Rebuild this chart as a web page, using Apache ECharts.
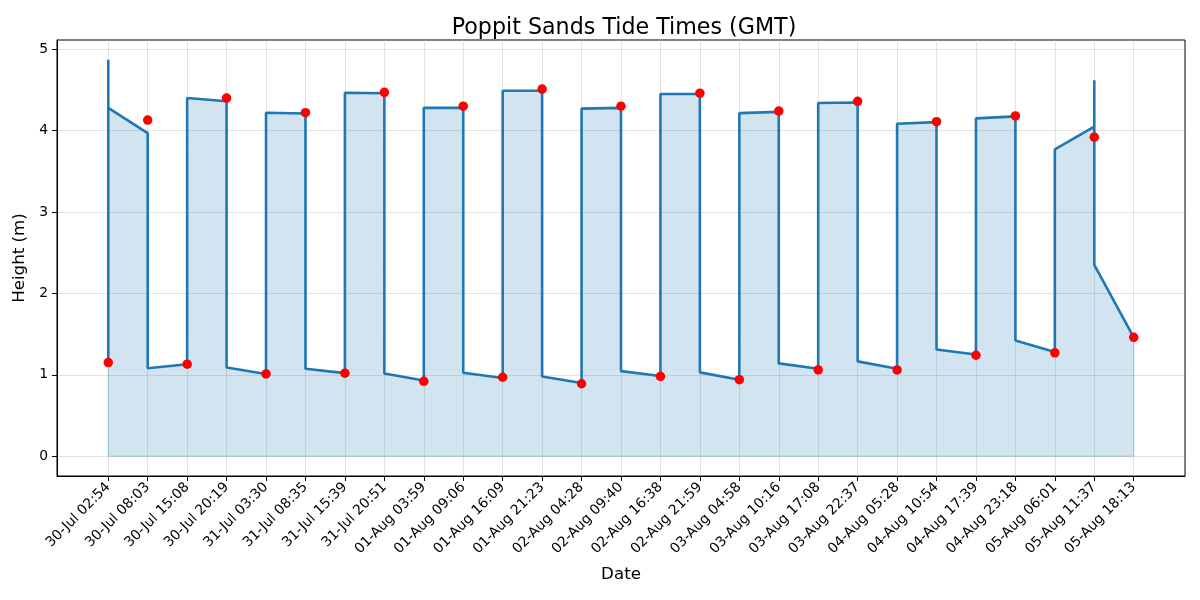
<!DOCTYPE html>
<html>
<head>
<meta charset="utf-8">
<script src="https://cdn.jsdelivr.net/npm/echarts@6/dist/echarts.min.js"></script>
<style>
  html, body { margin: 0; padding: 0; background: #fff; }
  #main { width: 1200px; height: 600px; }
</style>
</head>
<body>
<div id="main"></div>
<script>
// tide times (category labels)
var tideTimes = ['30-Jul 02:54', '30-Jul 08:03', '30-Jul 15:08', '30-Jul 20:19', '31-Jul 03:30', '31-Jul 08:35',
    '31-Jul 15:39', '31-Jul 20:51', '01-Aug 03:59', '01-Aug 09:06', '01-Aug 16:09', '01-Aug 21:23',
    '02-Aug 04:28', '02-Aug 09:40', '02-Aug 16:38', '02-Aug 21:59', '03-Aug 04:58', '03-Aug 10:16',
    '03-Aug 17:08', '03-Aug 22:37', '04-Aug 05:28', '04-Aug 10:54', '04-Aug 17:39', '04-Aug 23:18',
    '05-Aug 06:01', '05-Aug 11:37', '05-Aug 18:13'];
// tide heights (red dots)
var tideHeights = [1.15, 4.13, 1.13, 4.40, 1.01, 4.22, 1.02, 4.47, 0.92, 4.30, 0.97, 4.51, 0.89, 4.30,
    0.98, 4.46, 0.94, 4.24, 1.06, 4.36, 1.06, 4.11, 1.24, 4.18, 1.27, 3.92, 1.46];
// blue curve vertices: category index and height
var curveIdx = [0, 0, 0, 1, 1, 2, 2, 3, 3, 4, 4, 5, 5, 6, 6, 7, 7, 8, 8, 9, 9, 10, 10, 11, 11, 12, 12,
    13, 13, 14, 14, 15, 15, 16, 16, 17, 17, 18, 18, 19, 19, 20, 20, 21, 21, 22, 22, 23, 23, 24, 24,
    25, 25, 25, 26];
var curveHeight = [1.15, 4.87, 4.28, 3.97, 1.08, 1.13, 4.40, 4.36, 1.09, 1.01, 4.22, 4.21, 1.075,
    1.02, 4.465, 4.46, 1.015, 0.93, 4.28, 4.28, 1.025, 0.96, 4.49, 4.49, 0.98, 0.90, 4.27, 4.28, 1.045,
    0.985, 4.45, 4.45, 1.03, 0.94, 4.215, 4.23, 1.14, 1.075, 4.34, 4.345, 1.165, 1.075, 4.085, 4.105,
    1.31, 1.25, 4.15, 4.175, 1.42, 1.28, 3.77, 4.05, 4.62, 2.35, 1.46];
var yTicks = [0, 1, 2, 3, 4, 5];

var xTicks = tideTimes.map(function (t, i) { return i; });
var curveData = curveIdx.map(function (x, i) { return [x, curveHeight[i]]; });
var dotData = tideHeights.map(function (h, i) { return [i, h]; });
// faint outline of the filled area (left, bottom and right edges)
var firstX = curveIdx[0], lastX = curveIdx[curveIdx.length - 1];
var edgeData = [[firstX, curveHeight[0]], [firstX, 0], [lastX, 0], [lastX, curveHeight[curveHeight.length - 1]]];

var chart = echarts.init(document.getElementById('main'));
var font = 'DejaVu Sans';
var gridColor = 'rgba(176,176,176,0.35)';

var option = {
    animation: false,
    title: {
        text: 'Poppit Sands Tide Times (GMT)',
        left: 619,
        top: 12,
        textAlign: 'center',
        textStyle: { fontFamily: font, fontSize: 22.2, fontWeight: 'normal', color: '#000' }
    },
    grid: {
        left: 57, right: 15, top: 40, bottom: 124,
        containLabel: false,
        outerBoundsMode: 'none',
        show: true,
        borderColor: '#000',
        borderWidth: 1
    },
    xAxis: {
        type: 'value',
        min: -1.3,
        max: 27.3,
        name: 'Date',
        nameLocation: 'middle',
        nameGap: 90,
        nameTextStyle: { fontFamily: font, fontSize: 16.7, color: '#000' },
        axisLine: { show: true, onZero: false, lineStyle: { color: '#000' } },
        axisTick: { show: true, length: 5, customValues: xTicks, lineStyle: { color: '#000' } },
        axisLabel: {
            customValues: xTicks,
            rotate: 45,
            margin: 9,
            fontFamily: font,
            fontSize: 13.9,
            color: '#000',
            formatter: function (v) { return tideTimes[v]; }
        },
        splitLine: { show: true, customValues: xTicks, lineStyle: { color: gridColor, width: 1 } }
    },
    yAxis: {
        type: 'value',
        min: -0.2435,
        max: 5.1135,
        name: 'Height (m)',
        nameLocation: 'middle',
        nameGap: 25,
        nameTextStyle: { fontFamily: font, fontSize: 16.7, color: '#000' },
        axisLine: { show: true, onZero: false, lineStyle: { color: '#000' } },
        axisTick: { show: true, length: 5, customValues: yTicks, lineStyle: { color: '#000' } },
        axisLabel: {
            customValues: yTicks,
            margin: 9,
            fontFamily: font,
            fontSize: 13.9,
            color: '#000'
        },
        splitLine: { show: true, customValues: yTicks, lineStyle: { color: gridColor, width: 1 } }
    },
    series: [
        {
            type: 'line',
            data: edgeData,
            showSymbol: false,
            symbol: 'none',
            silent: true,
            lineStyle: { color: 'rgba(31,119,180,0.2)', width: 1.5 },
            z: 1
        },
        {
            type: 'line',
            data: curveData,
            showSymbol: false,
            symbol: 'none',
            lineStyle: { color: '#1f77b4', width: 2.6 },
            areaStyle: { color: '#1f77b4', opacity: 0.2, origin: 0 },
            z: 2
        },
        {
            type: 'scatter',
            data: dotData,
            symbolSize: 9.5,
            itemStyle: { color: '#ff0000', opacity: 1 },
            z: 3
        }
    ]
};

chart.setOption(option);
</script>
</body>
</html>
